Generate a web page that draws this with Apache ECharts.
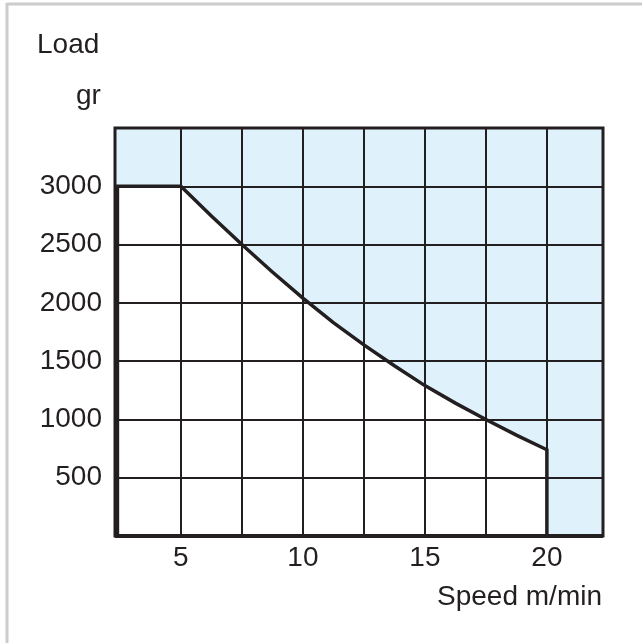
<!DOCTYPE html>
<html>
<head>
<meta charset="utf-8">
<script src="https://cdn.jsdelivr.net/npm/echarts@6/dist/echarts.min.js"></script>
<style>html,body{margin:0;padding:0;background:#fff;}#c{width:642px;height:643px;}</style>
</head>
<body>
<div id="c"></div>
<script>
// Speed axis (m/min)
var speedLabels = [5, 10, 15, 20];
var speedGrid = [5, 7.5, 10, 12.5, 15, 17.5, 20];
// Load axis (gr)
var loadLabels = [500, 1000, 1500, 2000, 2500, 3000];
// Operating envelope boundary (speed, load)
var envSpeed = [2.4, 2.4, 5, 6.25, 7.5, 8.75, 10, 11.25, 12.5, 13.75, 15, 16.25, 17.5, 18.75, 20, 20];
var envLoad  = [0, 3000, 3000, 2745, 2500, 2265, 2040, 1830, 1640, 1460, 1290, 1140, 1000, 865, 740, 0];

var envData = envSpeed.map(function (s, i) { return [s, envLoad[i]]; });
var ink = '#231f20';
var font = 'Liberation Sans, Arial, Helvetica, sans-serif';
var fs = 28;

var gridLines = speedGrid.map(function (v) { return { xAxis: v }; })
  .concat(loadLabels.map(function (v) { return { yAxis: v }; }));

var chart = echarts.init(document.getElementById('c'), null, { renderer: 'canvas' });
chart.setOption({
  animation: false,
  backgroundColor: '#fff',
  grid: {
    left: 115, top: 128, right: 39, bottom: 107,
    show: true, backgroundColor: '#dff1fb', borderColor: ink, borderWidth: 3, z: 0
  },
  xAxis: {
    type: 'value', min: 2.3, max: 22.3,
    axisLine: { show: false }, axisTick: { show: false }, splitLine: { show: false },
    axisLabel: { customValues: speedLabels, color: ink, fontSize: fs, fontFamily: font, margin: 8 }
  },
  yAxis: {
    type: 'value', min: 0, max: 3500, interval: 500,
    axisLine: { show: false }, axisTick: { show: false }, splitLine: { show: false },
    axisLabel: {
      color: ink, fontSize: fs, fontFamily: font, margin: 13,
      formatter: function (v) { return loadLabels.indexOf(v) >= 0 ? String(v) : ''; }
    }
  },
  graphic: [
    { type: 'line', shape: { x1: 7, y1: 4, x2: 642, y2: 4 }, style: { stroke: '#cccccc', lineWidth: 3 } },
    { type: 'line', shape: { x1: 7, y1: 3, x2: 7, y2: 643 }, style: { stroke: '#cccccc', lineWidth: 3 } },
    { type: 'text', left: 37, top: 31, style: { text: 'Load', fill: ink, font: fs + 'px ' + font } },
    { type: 'text', left: 76, top: 82, style: { text: 'gr', fill: ink, font: fs + 'px ' + font } },
    { type: 'text', right: 40, top: 583, style: { text: 'Speed m/min', fill: ink, font: fs + 'px ' + font } }
  ],
  series: [
    {
      type: 'line', data: envData, symbol: 'none', z: 1,
      lineStyle: { width: 0, opacity: 0 },
      areaStyle: { color: '#ffffff', opacity: 1, origin: 'start' }
    },
    {
      type: 'line', data: [], symbol: 'none', z: 2,
      markLine: {
        silent: true, symbol: 'none', animation: false,
        label: { show: false },
        lineStyle: { color: ink, width: 2, type: 'solid' },
        data: gridLines
      }
    },
    {
      type: 'line', data: envData, symbol: 'none', z: 3,
      lineStyle: { color: ink, width: 3.5, join: 'miter' }
    },
    {
      type: 'line', data: [[2.3, 0], [22.3, 0]], symbol: 'none', z: 3,
      lineStyle: { color: ink, width: 4 }
    }
  ]
});
</script>
</body>
</html>
